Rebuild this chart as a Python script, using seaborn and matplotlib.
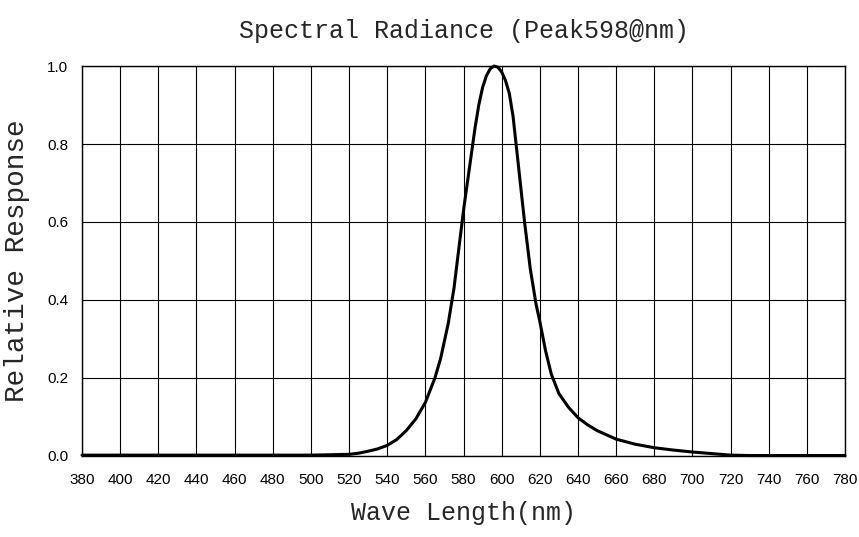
import matplotlib
matplotlib.use("Agg")
import matplotlib.pyplot as plt
import seaborn as sns
import pandas as pd

# wavelength (nm) and relative response
wavelength = [380, 400, 420, 440, 460, 480, 500, 520, 525, 530, 535, 540, 545,
              550, 555, 560, 565, 568, 572, 575, 578, 580, 582, 584, 586, 588,
              590, 592, 594, 596, 598, 600, 602, 604, 606, 608, 610, 612, 615,
              618, 620, 623, 626, 630, 635, 640, 645, 650, 660, 670, 680, 690,
              700, 710, 720, 730, 740, 760, 780]
response = [0.002, 0.002, 0.002, 0.002, 0.002, 0.002, 0.002, 0.004, 0.007,
            0.012, 0.018, 0.027, 0.042, 0.065, 0.095, 0.137, 0.20, 0.25, 0.34,
            0.43, 0.55, 0.63, 0.70, 0.77, 0.84, 0.90, 0.945, 0.975, 0.993,
            1.0, 0.997, 0.985, 0.963, 0.93, 0.87, 0.78, 0.69, 0.60, 0.48,
            0.39, 0.345, 0.27, 0.21, 0.16, 0.125, 0.098, 0.08, 0.065, 0.043,
            0.030, 0.021, 0.015, 0.010, 0.006, 0.002, 0.001, 0.001, 0.001,
            0.001]

x_ticks = list(range(380, 781, 20))
y_ticks = [0.0, 0.2, 0.4, 0.6, 0.8, 1.0]

df = pd.DataFrame({"wl": wavelength, "resp": response})

sns.set_style("white")
plt.rcParams["font.family"] = ["Liberation Sans", "DejaVu Sans"]

fig = plt.figure(figsize=(8.59, 5.37), dpi=100)
ax = fig.add_axes([0.0955, 0.151, 0.8882, 0.726])

sns.lineplot(data=df, x="wl", y="resp", color="black", linewidth=2.2, ax=ax,
             clip_on=False, zorder=5)

ax.set_xlim(380, 780)
ax.set_ylim(0, 1.0)
ax.set_xticks(x_ticks)
ax.set_yticks(y_ticks)
ax.set_xticklabels([str(t) for t in x_ticks])
ax.set_yticklabels([f"{t:.1f}" for t in y_ticks])
ax.tick_params(axis="x", length=0, pad=12, labelsize=11, colors="black")
ax.tick_params(axis="y", length=0, pad=10, labelsize=11, colors="black")

ax.grid(True, color="black", linewidth=0.8)
for s in ax.spines.values():
    s.set_color("black")
    s.set_linewidth(1.0)

mono = ["Liberation Mono", "DejaVu Sans Mono"]
ax.set_title("Spectral Radiance (Peak598@nm)", fontsize=18, family=mono, pad=20)
ax.set_xlabel("Wave Length(nm)", fontsize=18, family=mono)
ax.set_ylabel("Relative Response", fontsize=20, family=mono)
ax.xaxis.set_label_coords(0.5, -0.115)
ax.yaxis.set_label_coords(-0.068, 0.5)

plt.savefig("out.png", dpi=100)
